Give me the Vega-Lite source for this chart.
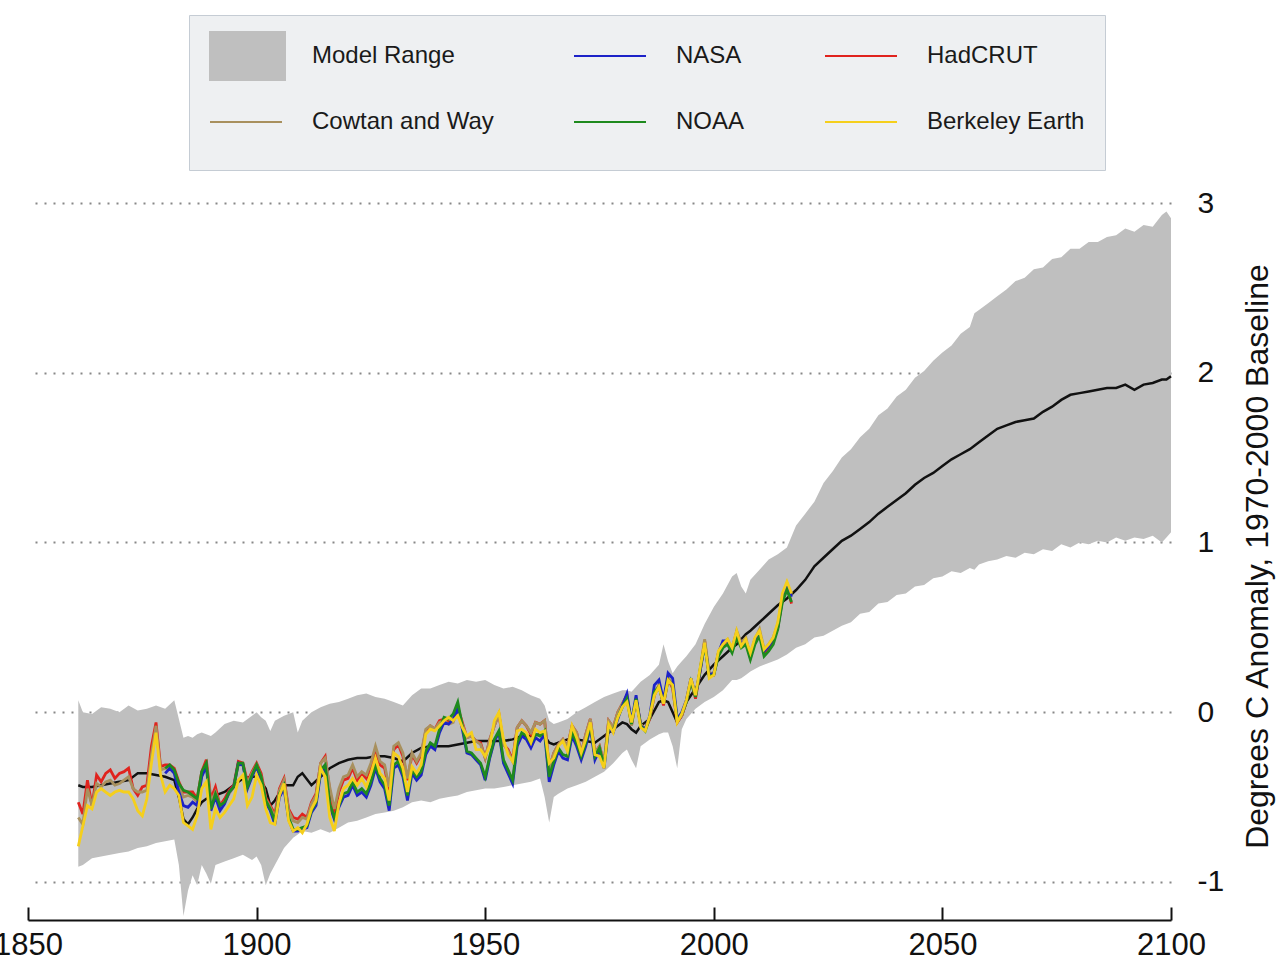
{
  "$schema": "https://vega.github.io/schema/vega-lite/v6.json",
  "width": 1143,
  "height": 717,
  "autosize": {"type": "none"},
  "padding": {"left": 28, "top": 203, "right": 105, "bottom": 40},
  "background": "white",
  "config": {"view": {"stroke": null}, "font": "Liberation Sans"},
  "datasets": {
    "model": [
      {"year":1861,"lo":-0.91,"hi":0.07,"mean":-0.43},
      {"year":1862,"lo":-0.90,"hi":0.00,"mean":-0.44},
      {"year":1864,"lo":-0.86,"hi":-0.01,"mean":-0.44},
      {"year":1866,"lo":-0.85,"hi":0.03,"mean":-0.43},
      {"year":1868,"lo":-0.84,"hi":0.02,"mean":-0.42},
      {"year":1870,"lo":-0.83,"hi":0.00,"mean":-0.41},
      {"year":1872,"lo":-0.82,"hi":0.04,"mean":-0.40},
      {"year":1874,"lo":-0.80,"hi":0.01,"mean":-0.36},
      {"year":1876,"lo":-0.79,"hi":0.02,"mean":-0.36},
      {"year":1878,"lo":-0.77,"hi":0.04,"mean":-0.37},
      {"year":1880,"lo":-0.76,"hi":0.02,"mean":-0.38},
      {"year":1882,"lo":-0.75,"hi":0.07,"mean":-0.40},
      {"year":1883,"lo":-0.90,"hi":-0.04,"mean":-0.50},
      {"year":1884,"lo":-1.20,"hi":-0.15,"mean":-0.63},
      {"year":1885,"lo":-1.05,"hi":-0.14,"mean":-0.66},
      {"year":1886,"lo":-0.96,"hi":-0.15,"mean":-0.62},
      {"year":1887,"lo":-1.02,"hi":-0.13,"mean":-0.57},
      {"year":1888,"lo":-0.90,"hi":-0.12,"mean":-0.53},
      {"year":1889,"lo":-0.95,"hi":-0.13,"mean":-0.51},
      {"year":1890,"lo":-1.01,"hi":-0.14,"mean":-0.50},
      {"year":1891,"lo":-0.90,"hi":-0.12,"mean":-0.49},
      {"year":1893,"lo":-0.88,"hi":-0.07,"mean":-0.47},
      {"year":1895,"lo":-0.86,"hi":-0.05,"mean":-0.43},
      {"year":1897,"lo":-0.84,"hi":-0.06,"mean":-0.39},
      {"year":1899,"lo":-0.87,"hi":-0.02,"mean":-0.38},
      {"year":1900,"lo":-0.85,"hi":0.00,"mean":-0.38},
      {"year":1901,"lo":-0.90,"hi":-0.03,"mean":-0.41},
      {"year":1902,"lo":-1.02,"hi":-0.05,"mean":-0.45},
      {"year":1903,"lo":-0.95,"hi":-0.11,"mean":-0.55},
      {"year":1904,"lo":-0.90,"hi":-0.05,"mean":-0.52},
      {"year":1906,"lo":-0.80,"hi":-0.02,"mean":-0.43},
      {"year":1908,"lo":-0.74,"hi":0.00,"mean":-0.43},
      {"year":1909,"lo":-0.72,"hi":-0.12,"mean":-0.38},
      {"year":1910,"lo":-0.70,"hi":-0.05,"mean":-0.36},
      {"year":1912,"lo":-0.71,"hi":0.00,"mean":-0.43},
      {"year":1914,"lo":-0.69,"hi":0.03,"mean":-0.38},
      {"year":1916,"lo":-0.71,"hi":0.05,"mean":-0.33},
      {"year":1918,"lo":-0.68,"hi":0.06,"mean":-0.30},
      {"year":1920,"lo":-0.65,"hi":0.08,"mean":-0.28},
      {"year":1922,"lo":-0.64,"hi":0.10,"mean":-0.27},
      {"year":1924,"lo":-0.62,"hi":0.11,"mean":-0.27},
      {"year":1926,"lo":-0.60,"hi":0.09,"mean":-0.26},
      {"year":1928,"lo":-0.59,"hi":0.08,"mean":-0.26},
      {"year":1930,"lo":-0.58,"hi":0.06,"mean":-0.27},
      {"year":1932,"lo":-0.56,"hi":0.04,"mean":-0.29},
      {"year":1934,"lo":-0.53,"hi":0.10,"mean":-0.24},
      {"year":1936,"lo":-0.52,"hi":0.14,"mean":-0.21},
      {"year":1938,"lo":-0.53,"hi":0.14,"mean":-0.20},
      {"year":1940,"lo":-0.51,"hi":0.16,"mean":-0.20},
      {"year":1942,"lo":-0.50,"hi":0.18,"mean":-0.20},
      {"year":1944,"lo":-0.49,"hi":0.17,"mean":-0.19},
      {"year":1946,"lo":-0.47,"hi":0.19,"mean":-0.18},
      {"year":1948,"lo":-0.46,"hi":0.18,"mean":-0.17},
      {"year":1950,"lo":-0.45,"hi":0.19,"mean":-0.17},
      {"year":1952,"lo":-0.45,"hi":0.16,"mean":-0.17},
      {"year":1954,"lo":-0.44,"hi":0.14,"mean":-0.17},
      {"year":1956,"lo":-0.43,"hi":0.15,"mean":-0.16},
      {"year":1958,"lo":-0.42,"hi":0.13,"mean":-0.14},
      {"year":1960,"lo":-0.41,"hi":0.10,"mean":-0.14},
      {"year":1962,"lo":-0.39,"hi":0.08,"mean":-0.13},
      {"year":1963,"lo":-0.50,"hi":0.04,"mean":-0.14},
      {"year":1964,"lo":-0.65,"hi":-0.05,"mean":-0.18},
      {"year":1965,"lo":-0.50,"hi":-0.07,"mean":-0.19},
      {"year":1966,"lo":-0.48,"hi":-0.06,"mean":-0.18},
      {"year":1968,"lo":-0.45,"hi":-0.04,"mean":-0.16},
      {"year":1970,"lo":-0.43,"hi":0.00,"mean":-0.16},
      {"year":1972,"lo":-0.41,"hi":0.03,"mean":-0.17},
      {"year":1974,"lo":-0.38,"hi":0.06,"mean":-0.18},
      {"year":1976,"lo":-0.35,"hi":0.09,"mean":-0.14},
      {"year":1978,"lo":-0.30,"hi":0.11,"mean":-0.10},
      {"year":1980,"lo":-0.24,"hi":0.13,"mean":-0.06},
      {"year":1981,"lo":-0.22,"hi":0.13,"mean":-0.07},
      {"year":1982,"lo":-0.28,"hi":0.12,"mean":-0.10},
      {"year":1983,"lo":-0.33,"hi":0.15,"mean":-0.12},
      {"year":1984,"lo":-0.20,"hi":0.18,"mean":-0.08},
      {"year":1986,"lo":-0.16,"hi":0.22,"mean":-0.04},
      {"year":1988,"lo":-0.13,"hi":0.28,"mean":0.06},
      {"year":1989,"lo":-0.12,"hi":0.40,"mean":0.07},
      {"year":1990,"lo":-0.12,"hi":0.30,"mean":0.06},
      {"year":1991,"lo":-0.20,"hi":0.23,"mean":0.00},
      {"year":1992,"lo":-0.33,"hi":0.27,"mean":-0.06},
      {"year":1993,"lo":-0.10,"hi":0.30,"mean":-0.02},
      {"year":1994,"lo":-0.04,"hi":0.33,"mean":0.06},
      {"year":1996,"lo":0.02,"hi":0.40,"mean":0.14},
      {"year":1998,"lo":0.06,"hi":0.52,"mean":0.22},
      {"year":2000,"lo":0.09,"hi":0.62,"mean":0.28},
      {"year":2002,"lo":0.13,"hi":0.70,"mean":0.33},
      {"year":2004,"lo":0.19,"hi":0.80,"mean":0.38},
      {"year":2005,"lo":0.19,"hi":0.82,"mean":0.40},
      {"year":2006,"lo":0.20,"hi":0.74,"mean":0.43},
      {"year":2007,"lo":0.22,"hi":0.70,"mean":0.46},
      {"year":2008,"lo":0.24,"hi":0.78,"mean":0.48},
      {"year":2010,"lo":0.27,"hi":0.84,"mean":0.53},
      {"year":2012,"lo":0.29,"hi":0.90,"mean":0.58},
      {"year":2014,"lo":0.31,"hi":0.93,"mean":0.63},
      {"year":2016,"lo":0.34,"hi":0.97,"mean":0.67},
      {"year":2018,"lo":0.38,"hi":1.10,"mean":0.72},
      {"year":2020,"lo":0.40,"hi":1.17,"mean":0.78},
      {"year":2022,"lo":0.44,"hi":1.24,"mean":0.86},
      {"year":2024,"lo":0.45,"hi":1.35,"mean":0.91},
      {"year":2026,"lo":0.48,"hi":1.42,"mean":0.96},
      {"year":2028,"lo":0.51,"hi":1.50,"mean":1.01},
      {"year":2030,"lo":0.53,"hi":1.55,"mean":1.04},
      {"year":2032,"lo":0.58,"hi":1.62,"mean":1.08},
      {"year":2034,"lo":0.59,"hi":1.67,"mean":1.12},
      {"year":2036,"lo":0.64,"hi":1.75,"mean":1.17},
      {"year":2038,"lo":0.65,"hi":1.79,"mean":1.21},
      {"year":2040,"lo":0.69,"hi":1.86,"mean":1.25},
      {"year":2042,"lo":0.70,"hi":1.90,"mean":1.29},
      {"year":2044,"lo":0.74,"hi":1.97,"mean":1.34},
      {"year":2046,"lo":0.75,"hi":2.01,"mean":1.38},
      {"year":2048,"lo":0.79,"hi":2.07,"mean":1.41},
      {"year":2050,"lo":0.80,"hi":2.12,"mean":1.45},
      {"year":2052,"lo":0.83,"hi":2.16,"mean":1.49},
      {"year":2054,"lo":0.82,"hi":2.23,"mean":1.52},
      {"year":2056,"lo":0.85,"hi":2.27,"mean":1.55},
      {"year":2057,"lo":0.84,"hi":2.35,"mean":1.57},
      {"year":2058,"lo":0.87,"hi":2.37,"mean":1.59},
      {"year":2060,"lo":0.89,"hi":2.41,"mean":1.63},
      {"year":2062,"lo":0.90,"hi":2.45,"mean":1.67},
      {"year":2064,"lo":0.92,"hi":2.49,"mean":1.69},
      {"year":2066,"lo":0.91,"hi":2.54,"mean":1.71},
      {"year":2068,"lo":0.94,"hi":2.56,"mean":1.72},
      {"year":2070,"lo":0.93,"hi":2.61,"mean":1.73},
      {"year":2072,"lo":0.96,"hi":2.62,"mean":1.77},
      {"year":2074,"lo":0.95,"hi":2.67,"mean":1.80},
      {"year":2076,"lo":0.99,"hi":2.68,"mean":1.84},
      {"year":2078,"lo":0.97,"hi":2.73,"mean":1.87},
      {"year":2080,"lo":1.00,"hi":2.73,"mean":1.88},
      {"year":2082,"lo":0.99,"hi":2.77,"mean":1.89},
      {"year":2084,"lo":1.01,"hi":2.77,"mean":1.90},
      {"year":2086,"lo":1.00,"hi":2.80,"mean":1.91},
      {"year":2088,"lo":1.03,"hi":2.81,"mean":1.91},
      {"year":2090,"lo":1.01,"hi":2.85,"mean":1.93},
      {"year":2092,"lo":1.03,"hi":2.83,"mean":1.90},
      {"year":2094,"lo":1.02,"hi":2.87,"mean":1.93},
      {"year":2096,"lo":1.04,"hi":2.86,"mean":1.94},
      {"year":2098,"lo":1.00,"hi":2.93,"mean":1.96},
      {"year":2099,"lo":1.03,"hi":2.95,"mean":1.96},
      {"year":2100,"lo":1.06,"hi":2.91,"mean":1.98}
    ],
    "obs": [
      {"year":1861,"HadCRUT":-0.53,"Cowtan and Way":-0.62,"Berkeley Earth":-0.79},
      {"year":1862,"HadCRUT":-0.60,"Cowtan and Way":-0.66,"Berkeley Earth":-0.67},
      {"year":1863,"HadCRUT":-0.40,"Cowtan and Way":-0.45,"Berkeley Earth":-0.55},
      {"year":1864,"HadCRUT":-0.55,"Cowtan and Way":-0.55,"Berkeley Earth":-0.57},
      {"year":1865,"HadCRUT":-0.37,"Cowtan and Way":-0.42,"Berkeley Earth":-0.47},
      {"year":1866,"HadCRUT":-0.41,"Cowtan and Way":-0.44,"Berkeley Earth":-0.45},
      {"year":1867,"HadCRUT":-0.36,"Cowtan and Way":-0.41,"Berkeley Earth":-0.47},
      {"year":1868,"HadCRUT":-0.34,"Cowtan and Way":-0.40,"Berkeley Earth":-0.49},
      {"year":1869,"HadCRUT":-0.39,"Cowtan and Way":-0.43,"Berkeley Earth":-0.47},
      {"year":1870,"HadCRUT":-0.36,"Cowtan and Way":-0.42,"Berkeley Earth":-0.46},
      {"year":1871,"HadCRUT":-0.35,"Cowtan and Way":-0.40,"Berkeley Earth":-0.47},
      {"year":1872,"HadCRUT":-0.33,"Cowtan and Way":-0.38,"Berkeley Earth":-0.47},
      {"year":1873,"HadCRUT":-0.45,"Cowtan and Way":-0.45,"Berkeley Earth":-0.51},
      {"year":1874,"HadCRUT":-0.49,"Cowtan and Way":-0.47,"Berkeley Earth":-0.58},
      {"year":1875,"HadCRUT":-0.44,"Cowtan and Way":-0.47,"Berkeley Earth":-0.61},
      {"year":1876,"HadCRUT":-0.43,"Cowtan and Way":-0.46,"Berkeley Earth":-0.51},
      {"year":1877,"HadCRUT":-0.20,"Cowtan and Way":-0.25,"Berkeley Earth":-0.30},
      {"year":1878,"HadCRUT":-0.06,"Cowtan and Way":-0.08,"Berkeley Earth":-0.12},
      {"year":1879,"HadCRUT":-0.32,"Cowtan and Way":-0.34,"Berkeley Earth":-0.37},
      {"year":1880,"HadCRUT":-0.31,"Cowtan and Way":-0.33,"NASA":-0.36,"NOAA":-0.33,"Berkeley Earth":-0.47},
      {"year":1881,"HadCRUT":-0.31,"Cowtan and Way":-0.33,"NASA":-0.33,"NOAA":-0.31,"Berkeley Earth":-0.43},
      {"year":1882,"HadCRUT":-0.33,"Cowtan and Way":-0.35,"NASA":-0.36,"NOAA":-0.34,"Berkeley Earth":-0.45},
      {"year":1883,"HadCRUT":-0.41,"Cowtan and Way":-0.44,"NASA":-0.47,"NOAA":-0.42,"Berkeley Earth":-0.49},
      {"year":1884,"HadCRUT":-0.47,"Cowtan and Way":-0.50,"NASA":-0.55,"NOAA":-0.46,"Berkeley Earth":-0.65},
      {"year":1885,"HadCRUT":-0.47,"Cowtan and Way":-0.49,"NASA":-0.56,"NOAA":-0.47,"Berkeley Earth":-0.67},
      {"year":1886,"HadCRUT":-0.47,"Cowtan and Way":-0.50,"NASA":-0.53,"NOAA":-0.49,"Berkeley Earth":-0.69},
      {"year":1887,"HadCRUT":-0.51,"Cowtan and Way":-0.53,"NASA":-0.55,"NOAA":-0.51,"Berkeley Earth":-0.61},
      {"year":1888,"HadCRUT":-0.35,"Cowtan and Way":-0.37,"NASA":-0.38,"NOAA":-0.35,"Berkeley Earth":-0.45},
      {"year":1889,"HadCRUT":-0.28,"Cowtan and Way":-0.31,"NASA":-0.32,"NOAA":-0.30,"Berkeley Earth":-0.41},
      {"year":1890,"HadCRUT":-0.51,"Cowtan and Way":-0.53,"NASA":-0.58,"NOAA":-0.57,"Berkeley Earth":-0.69},
      {"year":1891,"HadCRUT":-0.44,"Cowtan and Way":-0.47,"NASA":-0.50,"NOAA":-0.48,"Berkeley Earth":-0.57},
      {"year":1892,"HadCRUT":-0.55,"Cowtan and Way":-0.55,"NASA":-0.58,"NOAA":-0.55,"Berkeley Earth":-0.62},
      {"year":1893,"HadCRUT":-0.51,"Cowtan and Way":-0.53,"NASA":-0.54,"NOAA":-0.53,"Berkeley Earth":-0.59},
      {"year":1894,"HadCRUT":-0.46,"Cowtan and Way":-0.48,"NASA":-0.47,"NOAA":-0.47,"Berkeley Earth":-0.55},
      {"year":1895,"HadCRUT":-0.43,"Cowtan and Way":-0.44,"NASA":-0.44,"NOAA":-0.44,"Berkeley Earth":-0.51},
      {"year":1896,"HadCRUT":-0.29,"Cowtan and Way":-0.31,"NASA":-0.30,"NOAA":-0.30,"Berkeley Earth":-0.40},
      {"year":1897,"HadCRUT":-0.30,"Cowtan and Way":-0.31,"NASA":-0.31,"NOAA":-0.30,"Berkeley Earth":-0.37},
      {"year":1898,"HadCRUT":-0.41,"Cowtan and Way":-0.42,"NASA":-0.45,"NOAA":-0.44,"Berkeley Earth":-0.55},
      {"year":1899,"HadCRUT":-0.35,"Cowtan and Way":-0.36,"NASA":-0.38,"NOAA":-0.37,"Berkeley Earth":-0.50},
      {"year":1900,"HadCRUT":-0.30,"Cowtan and Way":-0.31,"NASA":-0.32,"NOAA":-0.31,"Berkeley Earth":-0.37},
      {"year":1901,"HadCRUT":-0.36,"Cowtan and Way":-0.38,"NASA":-0.40,"NOAA":-0.38,"Berkeley Earth":-0.43},
      {"year":1902,"HadCRUT":-0.50,"Cowtan and Way":-0.51,"NASA":-0.53,"NOAA":-0.52,"Berkeley Earth":-0.57},
      {"year":1903,"HadCRUT":-0.55,"Cowtan and Way":-0.56,"NASA":-0.58,"NOAA":-0.57,"Berkeley Earth":-0.65},
      {"year":1904,"HadCRUT":-0.60,"Cowtan and Way":-0.62,"NASA":-0.66,"NOAA":-0.64,"Berkeley Earth":-0.66},
      {"year":1905,"HadCRUT":-0.45,"Cowtan and Way":-0.46,"NASA":-0.50,"NOAA":-0.48,"Berkeley Earth":-0.49},
      {"year":1906,"HadCRUT":-0.39,"Cowtan and Way":-0.40,"NASA":-0.45,"NOAA":-0.43,"Berkeley Earth":-0.42},
      {"year":1907,"HadCRUT":-0.57,"Cowtan and Way":-0.58,"NASA":-0.63,"NOAA":-0.62,"Berkeley Earth":-0.64},
      {"year":1908,"HadCRUT":-0.62,"Cowtan and Way":-0.64,"NASA":-0.70,"NOAA":-0.69,"Berkeley Earth":-0.70},
      {"year":1909,"HadCRUT":-0.63,"Cowtan and Way":-0.65,"NASA":-0.70,"NOAA":-0.69,"Berkeley Earth":-0.68},
      {"year":1910,"HadCRUT":-0.60,"Cowtan and Way":-0.62,"NASA":-0.69,"NOAA":-0.68,"Berkeley Earth":-0.71},
      {"year":1911,"HadCRUT":-0.62,"Cowtan and Way":-0.63,"NASA":-0.68,"NOAA":-0.67,"Berkeley Earth":-0.66},
      {"year":1912,"HadCRUT":-0.53,"Cowtan and Way":-0.54,"NASA":-0.59,"NOAA":-0.58,"Berkeley Earth":-0.57},
      {"year":1913,"HadCRUT":-0.48,"Cowtan and Way":-0.49,"NASA":-0.55,"NOAA":-0.53,"Berkeley Earth":-0.52},
      {"year":1914,"HadCRUT":-0.30,"Cowtan and Way":-0.30,"NASA":-0.36,"NOAA":-0.34,"Berkeley Earth":-0.33},
      {"year":1915,"HadCRUT":-0.26,"Cowtan and Way":-0.27,"NASA":-0.33,"NOAA":-0.31,"Berkeley Earth":-0.38},
      {"year":1916,"HadCRUT":-0.46,"Cowtan and Way":-0.44,"NASA":-0.55,"NOAA":-0.54,"Berkeley Earth":-0.62},
      {"year":1917,"HadCRUT":-0.60,"Cowtan and Way":-0.57,"NASA":-0.63,"NOAA":-0.62,"Berkeley Earth":-0.70},
      {"year":1918,"HadCRUT":-0.47,"Cowtan and Way":-0.45,"NASA":-0.56,"NOAA":-0.55,"Berkeley Earth":-0.54},
      {"year":1919,"HadCRUT":-0.40,"Cowtan and Way":-0.38,"NASA":-0.50,"NOAA":-0.48,"Berkeley Earth":-0.45},
      {"year":1920,"HadCRUT":-0.39,"Cowtan and Way":-0.37,"NASA":-0.49,"NOAA":-0.47,"Berkeley Earth":-0.43},
      {"year":1921,"HadCRUT":-0.33,"Cowtan and Way":-0.31,"NASA":-0.43,"NOAA":-0.41,"Berkeley Earth":-0.39},
      {"year":1922,"HadCRUT":-0.40,"Cowtan and Way":-0.38,"NASA":-0.49,"NOAA":-0.47,"Berkeley Earth":-0.43},
      {"year":1923,"HadCRUT":-0.36,"Cowtan and Way":-0.35,"NASA":-0.47,"NOAA":-0.45,"Berkeley Earth":-0.39},
      {"year":1924,"HadCRUT":-0.39,"Cowtan and Way":-0.37,"NASA":-0.50,"NOAA":-0.48,"Berkeley Earth":-0.44},
      {"year":1925,"HadCRUT":-0.33,"Cowtan and Way":-0.30,"NASA":-0.43,"NOAA":-0.41,"Berkeley Earth":-0.36},
      {"year":1926,"HadCRUT":-0.22,"Cowtan and Way":-0.20,"NASA":-0.33,"NOAA":-0.31,"Berkeley Earth":-0.27},
      {"year":1927,"HadCRUT":-0.31,"Cowtan and Way":-0.29,"NASA":-0.41,"NOAA":-0.39,"Berkeley Earth":-0.36},
      {"year":1928,"HadCRUT":-0.33,"Cowtan and Way":-0.31,"NASA":-0.45,"NOAA":-0.43,"Berkeley Earth":-0.39},
      {"year":1929,"HadCRUT":-0.46,"Cowtan and Way":-0.44,"NASA":-0.58,"NOAA":-0.55,"Berkeley Earth":-0.52},
      {"year":1930,"HadCRUT":-0.22,"Cowtan and Way":-0.20,"NASA":-0.33,"NOAA":-0.31,"Berkeley Earth":-0.24},
      {"year":1931,"HadCRUT":-0.19,"Cowtan and Way":-0.18,"NASA":-0.31,"NOAA":-0.29,"Berkeley Earth":-0.26},
      {"year":1932,"HadCRUT":-0.26,"Cowtan and Way":-0.24,"NASA":-0.38,"NOAA":-0.36,"Berkeley Earth":-0.33},
      {"year":1933,"HadCRUT":-0.40,"Cowtan and Way":-0.39,"NASA":-0.52,"NOAA":-0.49,"Berkeley Earth":-0.47},
      {"year":1934,"HadCRUT":-0.25,"Cowtan and Way":-0.24,"NASA":-0.36,"NOAA":-0.34,"Berkeley Earth":-0.32},
      {"year":1935,"HadCRUT":-0.30,"Cowtan and Way":-0.29,"NASA":-0.40,"NOAA":-0.38,"Berkeley Earth":-0.36},
      {"year":1936,"HadCRUT":-0.25,"Cowtan and Way":-0.24,"NASA":-0.37,"NOAA":-0.35,"Berkeley Earth":-0.31},
      {"year":1937,"HadCRUT":-0.11,"Cowtan and Way":-0.10,"NASA":-0.25,"NOAA":-0.23,"Berkeley Earth":-0.13},
      {"year":1938,"HadCRUT":-0.08,"Cowtan and Way":-0.08,"NASA":-0.20,"NOAA":-0.18,"Berkeley Earth":-0.10},
      {"year":1939,"HadCRUT":-0.10,"Cowtan and Way":-0.10,"NASA":-0.22,"NOAA":-0.20,"Berkeley Earth":-0.11},
      {"year":1940,"HadCRUT":-0.05,"Cowtan and Way":-0.06,"NASA":-0.12,"NOAA":-0.10,"Berkeley Earth":-0.08},
      {"year":1941,"HadCRUT":-0.04,"Cowtan and Way":-0.05,"NASA":-0.06,"NOAA":-0.03,"Berkeley Earth":-0.05},
      {"year":1942,"HadCRUT":-0.06,"Cowtan and Way":-0.07,"NASA":-0.07,"NOAA":-0.04,"Berkeley Earth":-0.03},
      {"year":1943,"HadCRUT":-0.05,"Cowtan and Way":-0.06,"NASA":-0.04,"NOAA":-0.01,"Berkeley Earth":-0.05},
      {"year":1944,"HadCRUT":0.03,"Cowtan and Way":0.02,"NASA":0.02,"NOAA":0.06,"Berkeley Earth":-0.02},
      {"year":1945,"HadCRUT":-0.06,"Cowtan and Way":-0.07,"NASA":-0.10,"NOAA":-0.08,"Berkeley Earth":-0.09},
      {"year":1946,"HadCRUT":-0.15,"Cowtan and Way":-0.15,"NASA":-0.24,"NOAA":-0.23,"Berkeley Earth":-0.14},
      {"year":1947,"HadCRUT":-0.14,"Cowtan and Way":-0.14,"NASA":-0.25,"NOAA":-0.24,"Berkeley Earth":-0.12},
      {"year":1948,"HadCRUT":-0.17,"Cowtan and Way":-0.17,"NASA":-0.28,"NOAA":-0.27,"Berkeley Earth":-0.22},
      {"year":1949,"HadCRUT":-0.18,"Cowtan and Way":-0.19,"NASA":-0.31,"NOAA":-0.30,"Berkeley Earth":-0.22},
      {"year":1950,"HadCRUT":-0.27,"Cowtan and Way":-0.27,"NASA":-0.40,"NOAA":-0.38,"Berkeley Earth":-0.26},
      {"year":1951,"HadCRUT":-0.16,"Cowtan and Way":-0.16,"NASA":-0.27,"NOAA":-0.26,"Berkeley Earth":-0.20},
      {"year":1952,"HadCRUT":-0.08,"Cowtan and Way":-0.08,"NASA":-0.17,"NOAA":-0.16,"Berkeley Earth":-0.05},
      {"year":1953,"HadCRUT":-0.01,"Cowtan and Way":-0.01,"NASA":-0.12,"NOAA":-0.11,"Berkeley Earth":0.00},
      {"year":1954,"HadCRUT":-0.19,"Cowtan and Way":-0.19,"NASA":-0.30,"NOAA":-0.28,"Berkeley Earth":-0.16},
      {"year":1955,"HadCRUT":-0.22,"Cowtan and Way":-0.23,"NASA":-0.36,"NOAA":-0.34,"Berkeley Earth":-0.25},
      {"year":1956,"HadCRUT":-0.28,"Cowtan and Way":-0.29,"NASA":-0.42,"NOAA":-0.40,"Berkeley Earth":-0.29},
      {"year":1957,"HadCRUT":-0.09,"Cowtan and Way":-0.09,"NASA":-0.20,"NOAA":-0.18,"Berkeley Earth":-0.11},
      {"year":1958,"HadCRUT":-0.05,"Cowtan and Way":-0.05,"NASA":-0.14,"NOAA":-0.12,"Berkeley Earth":-0.10},
      {"year":1959,"HadCRUT":-0.08,"Cowtan and Way":-0.08,"NASA":-0.16,"NOAA":-0.14,"Berkeley Earth":-0.12},
      {"year":1960,"HadCRUT":-0.13,"Cowtan and Way":-0.12,"NASA":-0.21,"NOAA":-0.18,"Berkeley Earth":-0.18},
      {"year":1961,"HadCRUT":-0.06,"Cowtan and Way":-0.06,"NASA":-0.15,"NOAA":-0.13,"Berkeley Earth":-0.10},
      {"year":1962,"HadCRUT":-0.07,"Cowtan and Way":-0.07,"NASA":-0.17,"NOAA":-0.14,"Berkeley Earth":-0.12},
      {"year":1963,"HadCRUT":-0.05,"Cowtan and Way":-0.05,"NASA":-0.13,"NOAA":-0.11,"Berkeley Earth":-0.11},
      {"year":1964,"HadCRUT":-0.33,"Cowtan and Way":-0.33,"NASA":-0.41,"NOAA":-0.38,"Berkeley Earth":-0.30},
      {"year":1965,"HadCRUT":-0.24,"Cowtan and Way":-0.24,"NASA":-0.31,"NOAA":-0.29,"Berkeley Earth":-0.27},
      {"year":1966,"HadCRUT":-0.19,"Cowtan and Way":-0.19,"NASA":-0.23,"NOAA":-0.21,"Berkeley Earth":-0.20},
      {"year":1967,"HadCRUT":-0.16,"Cowtan and Way":-0.16,"NASA":-0.27,"NOAA":-0.25,"Berkeley Earth":-0.17},
      {"year":1968,"HadCRUT":-0.20,"Cowtan and Way":-0.20,"NASA":-0.28,"NOAA":-0.26,"Berkeley Earth":-0.23},
      {"year":1969,"HadCRUT":-0.08,"Cowtan and Way":-0.08,"NASA":-0.14,"NOAA":-0.12,"Berkeley Earth":-0.08},
      {"year":1970,"HadCRUT":-0.12,"Cowtan and Way":-0.12,"NASA":-0.20,"NOAA":-0.18,"Berkeley Earth":-0.15},
      {"year":1971,"HadCRUT":-0.24,"Cowtan and Way":-0.24,"NASA":-0.28,"NOAA":-0.26,"Berkeley Earth":-0.24},
      {"year":1972,"HadCRUT":-0.13,"Cowtan and Way":-0.13,"NASA":-0.20,"NOAA":-0.18,"Berkeley Earth":-0.16},
      {"year":1973,"HadCRUT":-0.04,"Cowtan and Way":-0.04,"NASA":-0.09,"NOAA":-0.07,"Berkeley Earth":-0.06},
      {"year":1974,"HadCRUT":-0.24,"Cowtan and Way":-0.24,"NASA":-0.28,"NOAA":-0.26,"Berkeley Earth":-0.25},
      {"year":1975,"HadCRUT":-0.20,"Cowtan and Way":-0.20,"NASA":-0.22,"NOAA":-0.21,"Berkeley Earth":-0.26},
      {"year":1976,"HadCRUT":-0.30,"Cowtan and Way":-0.30,"NASA":-0.33,"NOAA":-0.32,"Berkeley Earth":-0.33},
      {"year":1977,"HadCRUT":-0.05,"Cowtan and Way":-0.05,"NASA":-0.09,"NOAA":-0.08,"Berkeley Earth":-0.07},
      {"year":1978,"HadCRUT":-0.09,"Cowtan and Way":-0.09,"NASA":-0.12,"NOAA":-0.11,"Berkeley Earth":-0.12},
      {"year":1979,"HadCRUT":0.00,"Cowtan and Way":0.00,"NASA":-0.04,"NOAA":-0.03,"Berkeley Earth":-0.03},
      {"year":1980,"HadCRUT":0.05,"Cowtan and Way":0.05,"NASA":0.04,"NOAA":0.03,"Berkeley Earth":0.03},
      {"year":1981,"HadCRUT":0.10,"Cowtan and Way":0.10,"NASA":0.11,"NOAA":0.08,"Berkeley Earth":0.06},
      {"year":1982,"HadCRUT":-0.08,"Cowtan and Way":-0.08,"NASA":-0.06,"NOAA":-0.07,"Berkeley Earth":-0.06},
      {"year":1983,"HadCRUT":0.08,"Cowtan and Way":0.08,"NASA":0.10,"NOAA":0.08,"Berkeley Earth":0.07},
      {"year":1984,"HadCRUT":-0.07,"Cowtan and Way":-0.07,"NASA":-0.08,"NOAA":-0.08,"Berkeley Earth":-0.09},
      {"year":1985,"HadCRUT":-0.10,"Cowtan and Way":-0.10,"NASA":-0.10,"NOAA":-0.11,"Berkeley Earth":-0.11},
      {"year":1986,"HadCRUT":-0.04,"Cowtan and Way":-0.03,"NASA":-0.02,"NOAA":-0.03,"Berkeley Earth":-0.02},
      {"year":1987,"HadCRUT":0.10,"Cowtan and Way":0.10,"NASA":0.16,"NOAA":0.12,"Berkeley Earth":0.10},
      {"year":1988,"HadCRUT":0.16,"Cowtan and Way":0.16,"NASA":0.19,"NOAA":0.15,"Berkeley Earth":0.15},
      {"year":1989,"HadCRUT":0.04,"Cowtan and Way":0.05,"NASA":0.07,"NOAA":0.05,"Berkeley Earth":0.05},
      {"year":1990,"HadCRUT":0.20,"Cowtan and Way":0.21,"NASA":0.23,"NOAA":0.19,"Berkeley Earth":0.19},
      {"year":1991,"HadCRUT":0.14,"Cowtan and Way":0.15,"NASA":0.20,"NOAA":0.16,"Berkeley Earth":0.16},
      {"year":1992,"HadCRUT":-0.06,"Cowtan and Way":-0.05,"NASA":-0.04,"NOAA":-0.05,"Berkeley Earth":-0.06},
      {"year":1993,"HadCRUT":-0.02,"Cowtan and Way":-0.02,"NASA":0.00,"NOAA":-0.01,"Berkeley Earth":-0.01},
      {"year":1994,"HadCRUT":0.06,"Cowtan and Way":0.07,"NASA":0.07,"NOAA":0.06,"Berkeley Earth":0.07},
      {"year":1995,"HadCRUT":0.19,"Cowtan and Way":0.20,"NASA":0.20,"NOAA":0.18,"Berkeley Earth":0.20},
      {"year":1996,"HadCRUT":0.08,"Cowtan and Way":0.10,"NASA":0.10,"NOAA":0.09,"Berkeley Earth":0.10},
      {"year":1997,"HadCRUT":0.24,"Cowtan and Way":0.25,"NASA":0.24,"NOAA":0.25,"Berkeley Earth":0.26},
      {"year":1998,"HadCRUT":0.42,"Cowtan and Way":0.43,"NASA":0.40,"NOAA":0.40,"Berkeley Earth":0.41},
      {"year":1999,"HadCRUT":0.22,"Cowtan and Way":0.23,"NASA":0.22,"NOAA":0.21,"Berkeley Earth":0.20},
      {"year":2000,"HadCRUT":0.22,"Cowtan and Way":0.23,"NASA":0.23,"NOAA":0.22,"Berkeley Earth":0.22},
      {"year":2001,"HadCRUT":0.34,"Cowtan and Way":0.35,"NASA":0.35,"NOAA":0.33,"Berkeley Earth":0.36},
      {"year":2002,"HadCRUT":0.40,"Cowtan and Way":0.41,"NASA":0.42,"NOAA":0.38,"Berkeley Earth":0.40},
      {"year":2003,"HadCRUT":0.42,"Cowtan and Way":0.43,"NASA":0.42,"NOAA":0.40,"Berkeley Earth":0.43},
      {"year":2004,"HadCRUT":0.36,"Cowtan and Way":0.37,"NASA":0.37,"NOAA":0.35,"Berkeley Earth":0.38},
      {"year":2005,"HadCRUT":0.46,"Cowtan and Way":0.48,"NASA":0.47,"NOAA":0.44,"Berkeley Earth":0.48},
      {"year":2006,"HadCRUT":0.40,"Cowtan and Way":0.41,"NASA":0.40,"NOAA":0.38,"Berkeley Earth":0.39},
      {"year":2007,"HadCRUT":0.42,"Cowtan and Way":0.44,"NASA":0.42,"NOAA":0.40,"Berkeley Earth":0.43},
      {"year":2008,"HadCRUT":0.32,"Cowtan and Way":0.33,"NASA":0.34,"NOAA":0.31,"Berkeley Earth":0.35},
      {"year":2009,"HadCRUT":0.42,"Cowtan and Way":0.43,"NASA":0.43,"NOAA":0.40,"Berkeley Earth":0.44},
      {"year":2010,"HadCRUT":0.47,"Cowtan and Way":0.49,"NASA":0.47,"NOAA":0.45,"Berkeley Earth":0.48},
      {"year":2011,"HadCRUT":0.35,"Cowtan and Way":0.37,"NASA":0.36,"NOAA":0.33,"Berkeley Earth":0.37},
      {"year":2012,"HadCRUT":0.38,"Cowtan and Way":0.40,"NASA":0.39,"NOAA":0.36,"Berkeley Earth":0.40},
      {"year":2013,"HadCRUT":0.42,"Cowtan and Way":0.44,"NASA":0.43,"NOAA":0.40,"Berkeley Earth":0.44},
      {"year":2014,"HadCRUT":0.50,"Cowtan and Way":0.52,"NASA":0.50,"NOAA":0.49,"Berkeley Earth":0.53},
      {"year":2015,"HadCRUT":0.66,"Cowtan and Way":0.68,"NASA":0.67,"NOAA":0.65,"Berkeley Earth":0.70},
      {"year":2016,"HadCRUT":0.74,"Cowtan and Way":0.76,"NASA":0.75,"NOAA":0.72,"Berkeley Earth":0.77},
      {"year":2017,"HadCRUT":0.64,"Cowtan and Way":0.69,"NASA":0.68,"NOAA":0.65,"Berkeley Earth":0.70}
    ]
  },
  "encoding": {
    "x": {
      "field": "year",
      "type": "quantitative",
      "scale": {"domain": [1850, 2100], "nice": false, "zero": false},
      "axis": {
        "values": [1850, 1900, 1950, 2000, 2050, 2100],
        "format": "d",
        "title": null,
        "grid": false,
        "domainColor": "#111111",
        "domainWidth": 2,
        "tickColor": "#111111",
        "tickWidth": 2,
        "tickSize": -13,
        "labelFontSize": 31,
        "labelFont": "Liberation Sans",
        "labelColor": "#111111",
        "labelPadding": 23,
        "labelBaseline": "top",
        "labelFlush": false,
        "labelOverlap": false
      }
    }
  },
  "layer": [
    {
      "data": {"name": "model"},
      "mark": {"type": "area", "opacity": 1},
      "encoding": {
        "y": {
          "field": "lo",
          "type": "quantitative",
          "title": "Degrees C Anomaly, 1970-2000 Baseline",
          "scale": {"domain": [-1.224, 3], "nice": false, "zero": false},
          "axis": {
            "orient": "right",
            "values": [-1, 0, 1, 2, 3],
            "labelExpr": "datum.value < 0 ? '-' + abs(datum.value) : '' + datum.value",
            "grid": true,
            "gridColor": "#888888",
            "gridDash": [2, 7],
            "gridWidth": 2,
            "domain": false,
            "ticks": false,
            "labelFontSize": 30,
            "labelFont": "Liberation Sans",
            "labelColor": "#111111",
            "labelPadding": 26,
            "labelAlign": "left",
            "titleFont": "Liberation Sans",
            "titleFontSize": 32,
            "titleFontWeight": "normal",
            "titleColor": "#111111",
            "titleAngle": 270,
            "titleX": 86,
            "titleY": 353,
            "titleAlign": "center",
            "titleBaseline": "middle"
          }
        },
        "y2": {"field": "hi"},
        "color": {
          "datum": "Model Range",
          "type": "nominal",
          "scale": {
            "domain": ["Model Range", "NASA", "HadCRUT", "Cowtan and Way", "NOAA", "Berkeley Earth"],
            "range": ["#bfbfbf", "#1c22c8", "#e0231e", "#a8905e", "#1e8a1e", "#f5cf1c"]
          },
          "legend": {
            "orient": "none",
            "direction": "horizontal",
            "legendX": 161,
            "legendY": -188,
            "columns": 3,
            "title": null,
            "fillColor": "#eef0f2",
            "strokeColor": "#c5ccd4",
            "padding": 20,
            "columnPadding": 76,
            "rowPadding": 10,
            "labelFont": "Liberation Sans",
            "labelFontSize": 24,
            "labelColor": "#1a1a1a",
            "labelOffset": 61,
            "labelLimit": 400,
            "symbolSize": 1600,
            "symbolStrokeWidth": 2,
            "encode": {
              "symbols": {
                "update": {
                  "shape": {"signal": "datum.value === 'Model Range' ? 'M-1,-1.2H2.75V1.2H-1Z' : 'M-1,-1.2L-1,-1.2M-1,0H2.6M-1,1.2L-1,1.2'"},
                  "fill": {"signal": "datum.value === 'Model Range' ? '#bdbdbd' : 'transparent'"},
                  "stroke": {"signal": "datum.value === 'Model Range' ? 'transparent' : scale('color', datum.value)"},
                  "strokeWidth": {"value": 2},
                  "opacity": {"value": 1}
                }
              }
            }
          }
        }
      }
    },
    {
      "data": {"name": "model"},
      "mark": {"type": "line", "color": "#111111", "strokeWidth": 2.5},
      "encoding": {
        "y": {"field": "mean", "type": "quantitative", "title": "Degrees C Anomaly, 1970-2000 Baseline"}
      }
    },
    {
      "data": {"name": "obs"},
      "transform": [
        {"fold": ["HadCRUT", "Cowtan and Way", "NASA", "NOAA", "Berkeley Earth"], "as": ["series", "temp"]}
      ],
      "mark": {"type": "line", "strokeWidth": 2.8},
      "encoding": {
        "y": {"field": "temp", "type": "quantitative", "title": "Degrees C Anomaly, 1970-2000 Baseline"},
        "color": {
          "field": "series",
          "type": "nominal",
          "scale": {
            "domain": ["Model Range", "NASA", "HadCRUT", "Cowtan and Way", "NOAA", "Berkeley Earth"],
            "range": ["#bfbfbf", "#1c22c8", "#e0231e", "#a8905e", "#1e8a1e", "#f5cf1c"]
          },
          "legend": {
            "orient": "none",
            "direction": "horizontal",
            "legendX": 161,
            "legendY": -188,
            "columns": 3,
            "title": null,
            "fillColor": "#eef0f2",
            "strokeColor": "#c5ccd4",
            "padding": 20,
            "columnPadding": 76,
            "rowPadding": 10,
            "labelFont": "Liberation Sans",
            "labelFontSize": 24,
            "labelColor": "#1a1a1a",
            "labelOffset": 61,
            "labelLimit": 400,
            "symbolSize": 1600,
            "symbolStrokeWidth": 2,
            "encode": {
              "symbols": {
                "update": {
                  "shape": {"signal": "datum.value === 'Model Range' ? 'M-1,-1.2H2.75V1.2H-1Z' : 'M-1,-1.2L-1,-1.2M-1,0H2.6M-1,1.2L-1,1.2'"},
                  "fill": {"signal": "datum.value === 'Model Range' ? '#bdbdbd' : 'transparent'"},
                  "stroke": {"signal": "datum.value === 'Model Range' ? 'transparent' : scale('color', datum.value)"},
                  "strokeWidth": {"value": 2},
                  "opacity": {"value": 1}
                }
              }
            }
          }
        }
      }
    }
  ]
}
